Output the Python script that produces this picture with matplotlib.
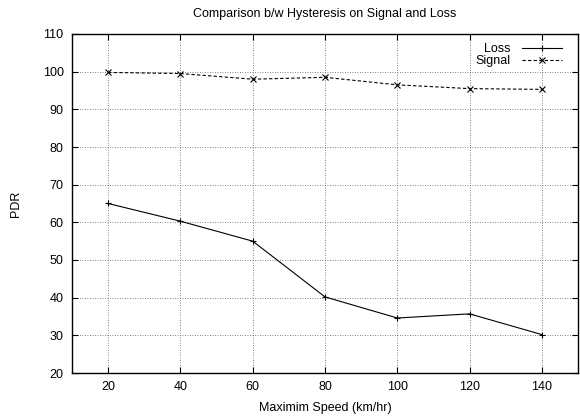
import matplotlib
matplotlib.use("Agg")
import matplotlib.pyplot as plt

speeds = [20, 40, 60, 80, 100, 120, 140]
loss = [65.0, 60.3, 55.0, 40.2, 34.6, 35.7, 30.2]
signal = [99.8, 99.5, 98.0, 98.5, 96.5, 95.5, 95.3]
xticks = [20, 40, 60, 80, 100, 120, 140]
yticks = [20, 30, 40, 50, 60, 70, 80, 90, 100, 110]

plt.rcParams['font.family'] = ['Liberation Sans', 'DejaVu Sans']
plt.rcParams['font.size'] = 9

fig = plt.figure(figsize=(5.8, 4.19), dpi=100)
ax = fig.add_axes([72/580, 46/419, 506/580, 339/419])

ax.plot(speeds, loss, color='black', lw=0.8, marker='+', ms=5, mew=0.8, label='Loss')
ax.plot(speeds, signal, color='black', lw=0.8, ls=(0, (3, 2)), marker='x', ms=4, mew=0.8, label='Signal')

ax.set_xlim(10, 150)
ax.set_ylim(20, 110)
ax.set_xticks(xticks)
ax.set_yticks(yticks)
ax.grid(True, ls=(0, (1, 2)), color='0.35', lw=0.6)
ax.tick_params(direction='in', top=True, right=True, length=4, width=0.8, pad=6, labelsize=9)
for s in ax.spines.values():
    s.set_linewidth(1.0)

ax.set_title('Comparison b/w Hysteresis on Signal and Loss', fontsize=9, pad=12)
ax.set_xlabel('Maximim Speed (km/hr)', fontsize=9, labelpad=6)
ax.set_ylabel('PDR', fontsize=9, labelpad=15)

leg = ax.legend(loc='upper right', bbox_to_anchor=(0.988, 1.003), frameon=False, markerfirst=False,
                handlelength=3.2, borderaxespad=0.4, labelspacing=0.0, handletextpad=0.9)

fig.savefig('out.png', dpi=100)
